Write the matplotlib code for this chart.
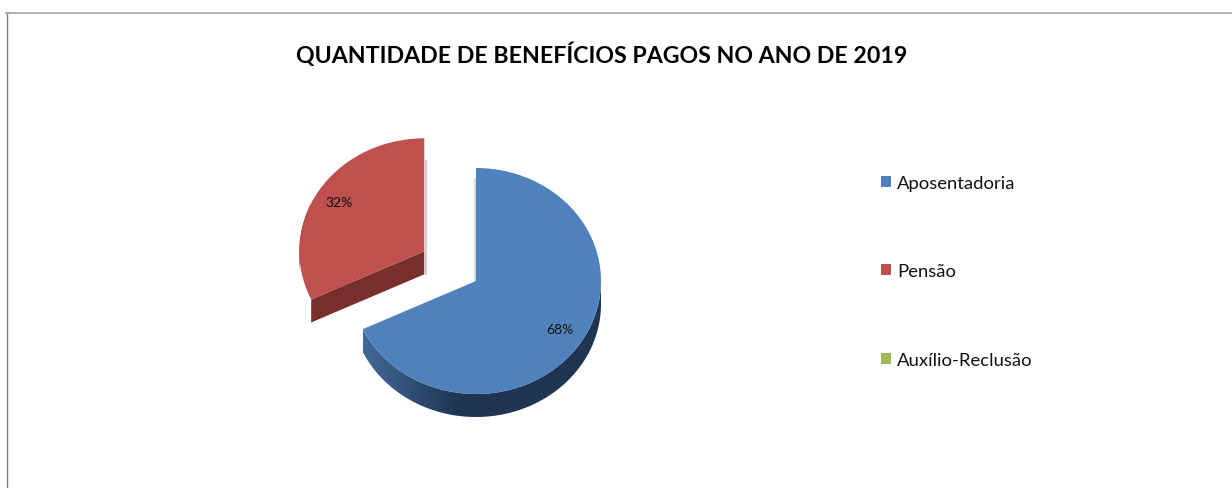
import numpy as np
import matplotlib
matplotlib.use('Agg')
import matplotlib.pyplot as plt
from matplotlib.colors import LinearSegmentedColormap
from matplotlib.lines import Line2D
from matplotlib.patches import Polygon

title = 'QUANTIDADE DE BENEFÍCIOS PAGOS NO ANO DE 2019'
labels = ['Aposentadoria', 'Pensão', 'Auxílio-Reclusão']
values = [68, 32, 0]
colors = ['#4f81bd', '#c0504d', '#9bbb59']

W, H = 1232, 489
CX, CY, RX, RY = 476, 282, 125, 113  # blue pie centre and radii, in pixels
DEPTH = 23 / RY

plt.rcParams['font.family'] = ['Lato', 'DejaVu Sans']
fig = plt.figure(figsize=(W / 100, H / 100), dpi=100, facecolor='white')
ax = fig.add_axes([0, 0, 1, 1])


def pct_label(p):
    return '%.0f%%' % p if p > 0 else ''


wedges, _, autotexts = ax.pie(values, explode=[0, 0.49, 0], colors=colors, startangle=90,
                              counterclock=False, radius=1, autopct=pct_label,
                              pctdistance=0.81, textprops={'fontsize': 10, 'color': '#111111'},
                              wedgeprops={'linewidth': 0, 'zorder': 5})
for t in autotexts:
    t.set_zorder(8)
# the blue label sits a touch further in than the red one
x, y = autotexts[0].get_position()
autotexts[0].set_position((x * 0.98, y * 0.98))

xlim = (-CX / RX, (W - CX) / RX)
ylim = (-(H - CY) / RY, CY / RY)


def arc(center, a0, a1, dy=0.0):
    ang = np.radians(np.linspace(a0, a1, 120))
    return np.column_stack([center[0] + np.cos(ang), center[1] + np.sin(ang) - dy])


def side(points, stops, x0, x1, z):
    # extruded wall of the pie, filled with a horizontal gradient
    cmap = LinearSegmentedColormap.from_list('side', stops)
    poly = Polygon(points, closed=True, transform=ax.transData, facecolor='none', edgecolor='none')
    ax.add_patch(poly)
    im = ax.imshow(np.linspace(0, 1, 256).reshape(1, -1), extent=(x0, x1, -3, 3), cmap=cmap,
                   aspect='auto', zorder=z)
    im.set_clip_path(poly)


blue, red = wedges[0], wedges[1]

# blue wall, from the end of the slice round to the right edge
start = blue.theta1
outer = arc(blue.center, start, 0)
lower = arc(blue.center, 0, start, DEPTH)
side(np.vstack([outer, lower]), [(0, '#41699a'), (0.4, '#1f3552'), (1, '#1f3552')],
     blue.center[0] + np.cos(np.radians(start)), blue.center[0] + 1, 3)

# red wall on the outside and the cut face
outer = arc(red.center, 180, red.theta2)
lower = arc(red.center, red.theta2, 180, DEPTH)
side(np.vstack([outer, lower]), [(0, '#a5504d'), (1, '#8a3b39')], red.center[0] - 1,
     red.center[0] + np.cos(np.radians(red.theta2)), 3)
edge = arc(red.center, red.theta2, red.theta2)[0]
face = [red.center, edge, (edge[0], edge[1] - DEPTH), (red.center[0], red.center[1] - DEPTH)]
ax.add_patch(Polygon(face, closed=True, facecolor='#772f2d', edgecolor='none', zorder=4))

# faint shadow beside the straight edges
ax.plot([red.center[0] + 0.012] * 2, [red.center[1] - DEPTH, red.center[1] + 0.8], color='#c4c4c4', lw=1.2, zorder=2)
ax.plot([blue.center[0] - 0.012] * 2, [blue.center[1], blue.center[1] + 0.9], color='#d4d4d4', lw=1.2, zorder=2)

ax.set_aspect('auto')
ax.set_xlim(xlim)
ax.set_ylim(ylim)
ax.axis('off')

fig.text(601.5 / W, 1 - 55 / H, title, fontsize=16.7, fontweight='bold', color='black',
         ha='center', va='center')

ax.legend(wedges, labels, loc='upper left', bbox_to_anchor=(881 / W, 1 - 176 / H), frameon=False,
          fontsize=13.3, labelspacing=3.92, handlelength=0.54, handleheight=0.54,
          handletextpad=0.32, borderpad=0, borderaxespad=0, labelcolor='#111111')

fig.add_artist(Line2D([6.5 / W, 6.5 / W], [0, 1 - 13 / H], color='#808080', lw=1))
fig.add_artist(Line2D([6 / W, 1], [1 - 13.5 / H, 1 - 13.5 / H], color='#ababab', lw=1.3))

fig.savefig('out.png', dpi=100)
